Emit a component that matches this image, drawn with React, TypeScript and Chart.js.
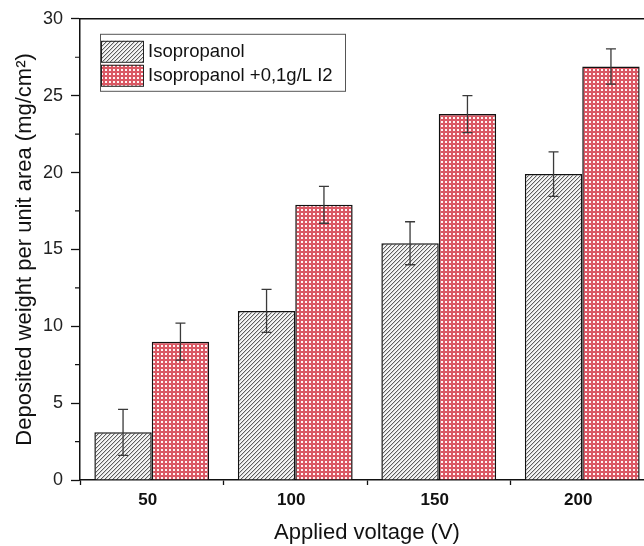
import { useEffect, useRef } from "react";
import { Chart, registerables } from "chart.js";

Chart.register(...registerables);

const categories = ["50", "100", "150", "200"];
const seriesLabels = ["Isopropanol", "Isopropanol +0,1g/L I2"];
const isoValues = [3.1, 11.0, 15.4, 19.9];
const isoErrors = [1.5, 1.4, 1.4, 1.45];
const iodineValues = [9.0, 17.9, 23.8, 26.9];
const iodineErrors = [1.2, 1.2, 1.2, 1.15];
const yMin = 0;
const yMax = 30;
const yMajorStep = 5;
const yMinorStep = 2.5;
const xTitle = "Applied voltage (V)";
const yTitle = "Deposited weight per unit area (mg/cm²)";

const FONT = "'Liberation Sans', Arial, Helvetica, sans-serif";

function makeHatch(): CanvasPattern | string {
  const c = document.createElement("canvas");
  c.width = 4;
  c.height = 4;
  const g = c.getContext("2d");
  if (!g) return "#aaa";
  g.fillStyle = "#f6f6f6";
  g.fillRect(0, 0, 4, 4);
  for (let i = 0; i < 4; i++) {
    g.fillStyle = "#5e5e5e";
    g.fillRect(i, 3 - i, 1, 1);
    g.fillStyle = "#d0d0d0";
    g.fillRect(i, (4 - i) % 4, 1, 1);
  }
  return g.createPattern(c, "repeat") || "#aaa";
}

function makeCheck(): CanvasPattern | string {
  const c = document.createElement("canvas");
  c.width = 4;
  c.height = 4;
  const g = c.getContext("2d");
  if (!g) return "#e88";
  g.fillStyle = "#da5864";
  g.fillRect(0, 0, 4, 4);
  g.fillStyle = "#fff4f4";
  g.fillRect(1, 1, 2, 2);
  return g.createPattern(c, "repeat") || "#e88";
}

const errorBarPlugin = {
  id: "errorBars",
  afterDatasetsDraw(chart: any) {
    const ctx = chart.ctx;
    const y = chart.scales.y;
    chart.data.datasets.forEach((ds: any, di: number) => {
      const meta = chart.getDatasetMeta(di);
      meta.data.forEach((bar: any, i: number) => {
        const v = ds.data[i];
        const e = ds.errors[i];
        const top = y.getPixelForValue(v + e);
        const bot = y.getPixelForValue(v - e);
        const x = bar.x;
        ctx.save();
        ctx.strokeStyle = "#3a3a3a";
        ctx.lineWidth = 1.3;
        ctx.beginPath();
        ctx.moveTo(x, top);
        ctx.lineTo(x, bot);
        ctx.moveTo(x - 5, top);
        ctx.lineTo(x + 5, top);
        ctx.moveTo(x - 5, bot);
        ctx.lineTo(x + 5, bot);
        ctx.stroke();
        ctx.restore();
      });
    });
  },
};

const framePlugin = {
  id: "frame",
  afterDraw(chart: any) {
    const ctx = chart.ctx;
    const { left, right, top, bottom } = chart.chartArea;
    const y = chart.scales.y;
    ctx.save();
    ctx.strokeStyle = "#111";
    ctx.lineWidth = 1.5;
    ctx.beginPath();
    ctx.moveTo(left, top);
    ctx.lineTo(right, top);
    ctx.lineTo(right, bottom);
    ctx.stroke();
    ctx.lineWidth = 1.2;
    ctx.beginPath();
    for (let v = yMin; v <= yMax + 1e-9; v += yMinorStep) {
      if (Math.abs(v / yMajorStep - Math.round(v / yMajorStep)) < 1e-6) continue;
      const py = y.getPixelForValue(v);
      ctx.moveTo(left - 5, py);
      ctx.lineTo(left, py);
    }
    ctx.stroke();
    ctx.restore();
  },
};

const legendPlugin = {
  id: "boxLegend",
  afterDraw(chart: any) {
    const ctx = chart.ctx;
    const { left, top } = chart.chartArea;
    const bx = left + 20;
    const by = top + 15;
    const bw = 245;
    const bh = 57;
    const sw = 42;
    const sh = 21;
    ctx.save();
    ctx.fillStyle = "#ffffff";
    ctx.fillRect(bx, by, bw, bh);
    ctx.strokeStyle = "#555";
    ctx.lineWidth = 1;
    ctx.strokeRect(bx + 0.5, by + 0.5, bw, bh);
    chart.data.datasets.forEach((ds: any, i: number) => {
      const sy = by + 7 + i * 24;
      ctx.fillStyle = ds.backgroundColor;
      ctx.fillRect(bx + 1, sy, sw, sh);
      ctx.strokeStyle = "#222";
      ctx.lineWidth = 1;
      ctx.strokeRect(bx + 1.5, sy + 0.5, sw, sh);
      ctx.fillStyle = "#111";
      ctx.font = `18.5px ${FONT}`;
      ctx.textBaseline = "middle";
      ctx.textAlign = "left";
      ctx.fillText(ds.label, bx + 48, sy + sh / 2 + 1);
    });
    ctx.restore();
  },
};

export default function App() {
  const ref = useRef<HTMLCanvasElement>(null);

  useEffect(() => {
    if (!ref.current) return;
    const hatch = makeHatch();
    const check = makeCheck();
    const chart = new Chart(ref.current, {
      type: "bar",
      data: {
        labels: categories,
        datasets: [
          {
            label: seriesLabels[0],
            data: isoValues,
            errors: isoErrors,
            backgroundColor: hatch,
            borderColor: "#111",
            borderWidth: 1.5,
            categoryPercentage: 0.8,
            barPercentage: 1.0,
          } as any,
          {
            label: seriesLabels[1],
            data: iodineValues,
            errors: iodineErrors,
            backgroundColor: check,
            borderColor: "#111",
            borderWidth: 1.5,
            categoryPercentage: 0.8,
            barPercentage: 1.0,
          } as any,
        ],
      },
      options: {
        responsive: false,
        animation: false,
        devicePixelRatio: 1,
        layout: { padding: { left: 0, top: 18, right: 6, bottom: 0 } },
        plugins: {
          legend: { display: false },
          tooltip: { enabled: false },
        },
        scales: {
          x: {
            grid: {
              drawOnChartArea: false,
              drawTicks: true,
              tickLength: 5,
              tickColor: "#111",
              tickWidth: 1.3,
            },
            border: { display: true, color: "#111", width: 1.5 },
            ticks: {
              color: "#111",
              font: { family: FONT, size: 17, weight: "bold" },
              padding: 5,
              labelOffset: -4,
            },
            title: {
              display: true,
              text: xTitle,
              color: "#111",
              font: { family: FONT, size: 22 },
              padding: { top: 0, bottom: 0 },
            },
            afterFit(scale: any) {
              scale.height = 66;
            },
          },
          y: {
            min: yMin,
            max: yMax,
            ticks: {
              stepSize: yMajorStep,
              color: "#222",
              font: { family: FONT, size: 18 },
              padding: 8,
            },
            grid: {
              drawOnChartArea: false,
              drawTicks: true,
              tickLength: 9,
              tickColor: "#111",
              tickWidth: 1.3,
            },
            border: { display: true, color: "#111", width: 1.5 },
            title: {
              display: true,
              text: yTitle,
              color: "#111",
              font: { family: FONT, size: 22 },
              padding: { top: 12, bottom: 0 },
            },
            afterFit(scale: any) {
              scale.width = 80;
            },
          },
        },
      } as any,
      plugins: [errorBarPlugin, framePlugin, legendPlugin],
    });
    return () => chart.destroy();
  }, []);

  return (
    <div
      style={{
        position: "fixed",
        left: 0,
        top: 0,
        width: 644,
        height: 546,
        overflow: "hidden",
        background: "#ffffff",
      }}
    >
      <canvas ref={ref} width={660} height={546} style={{ display: "block" }} />
    </div>
  );
}
